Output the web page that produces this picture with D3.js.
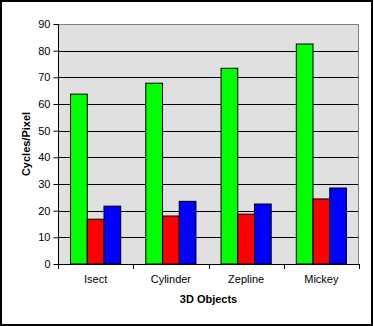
<!DOCTYPE html>
<html>
<head>
<meta charset="utf-8">
<script src="https://cdn.jsdelivr.net/npm/d3@7"></script>
<style>
  body { margin: 0; background: #fff; }
  svg text { font-family: "Liberation Sans", Arial, sans-serif; }
</style>
</head>
<body>
<div class="container"></div>
<script>
const categories = ["Isect", "Cylinder", "Zepline", "Mickey"]
const seriesGreen = [63.7, 67.8, 73.4, 82.5]
const seriesRed = [16.8, 18.0, 18.7, 24.4]
const seriesBlue = [21.7, 23.5, 22.5, 28.5]
const yTicks = [0, 10, 20, 30, 40, 50, 60, 70, 80, 90]
const colors = ["#00ff00", "#ff0000", "#0000ff"]

const series = [seriesGreen, seriesRed, seriesBlue]

let outerWidth = 374
let outerHeight = 326
let margin = {top: 24, right: 15, bottom: 62, left: 58}
let width = outerWidth - margin.left - margin.right
let height = outerHeight - margin.top - margin.bottom

const root = d3.select(".container")
    .append("svg")
    .attr("width", outerWidth)
    .attr("height", outerHeight)

// outer frame
root.append("rect")
    .attr("x", 1)
    .attr("y", 1)
    .attr("width", outerWidth - 3)
    .attr("height", outerHeight - 2)
    .attr("fill", "white")
    .attr("stroke", "black")
    .attr("stroke-width", 2)

const svg = root.append("g")
    .attr("transform", `translate(${margin.left}, ${margin.top})`)

// Scales
const xScale = d3.scaleBand()
    .domain(categories)
    .range([0, width])
    .paddingInner(0)

const barW = xScale.bandwidth() / 4.5
const inner = d3.scaleBand()
    .domain([0, 1, 2])
    .range([barW * 0.75, barW * 3.75])

const yScale = d3.scaleLinear()
    .domain([0, 90])
    .range([height, 0])

// plot background
svg.append("rect")
    .attr("width", width)
    .attr("height", height)
    .attr("fill", "#e0e0e0")

// Grid lines
svg.selectAll(".grid")
    .data(yTicks.filter(d => d > 0 && d < 90))
    .enter()
    .append("line")
    .attr("x1", 0)
    .attr("x2", width)
    .attr("y1", d => Math.round(yScale(d)) + 0.5)
    .attr("y2", d => Math.round(yScale(d)) + 0.5)
    .attr("stroke", "black")
    .attr("stroke-width", 1)

// gray top and right edges
svg.append("path")
    .attr("d", `M0,0.5H${width - 0.5}V${height}`)
    .attr("fill", "none")
    .attr("stroke", "#808080")
    .attr("stroke-width", 1)

// Bars
const groups = svg.selectAll(".group")
    .data(categories)
    .enter()
    .append("g")
    .attr("transform", d => `translate(${xScale(d)}, 0)`)

groups.selectAll("rect")
    .data((d, i) => series.map((s, k) => ({k: k, v: s[i]})))
    .enter()
    .append("rect")
    .attr("x", d => inner(d.k))
    .attr("y", d => yScale(d.v))
    .attr("width", inner.bandwidth())
    .attr("height", d => height - yScale(d.v))
    .attr("fill", d => colors[d.k])
    .attr("stroke", "black")
    .attr("stroke-width", 1)

// Axes
const yAxis = d3.axisLeft(yScale)
    .tickValues(yTicks)
    .tickSize(5)
    .tickPadding(3)

let y = svg.append("g")
    .attr("class", "axis y-axis")
    .attr("transform", "translate(0.5, 0)")
    .call(yAxis)

y.select(".domain")
    .attr("d", `M0,0V${height}`)
    .attr("stroke", "black")
y.selectAll(".tick line").attr("stroke", "black")
y.selectAll(".tick text")
    .attr("font-size", 11)
    .attr("fill", "black")
    .attr("font-family", "Liberation Sans, Arial, sans-serif")

const xTicks = svg.append("g")
    .attr("transform", `translate(0, ${height})`)

xTicks.append("line")
    .attr("x1", 0)
    .attr("x2", width)
    .attr("y1", 0.5)
    .attr("y2", 0.5)
    .attr("stroke", "black")

xTicks.selectAll(".tick")
    .data(categories.concat(["end"]))
    .enter()
    .append("line")
    .attr("x1", (d, i) => Math.round(i * xScale.step()) + 0.5)
    .attr("x2", (d, i) => Math.round(i * xScale.step()) + 0.5)
    .attr("y1", 0)
    .attr("y2", 5)
    .attr("stroke", "black")

xTicks.selectAll(".label")
    .data(categories)
    .enter()
    .append("text")
    .text(d => d)
    .attr("x", d => xScale(d) + xScale.bandwidth() / 2)
    .attr("y", 19)
    .attr("text-anchor", "middle")
    .attr("font-size", 11)
    .attr("fill", "black")

// Axis titles
svg.append("text")
    .text("3D Objects")
    .attr("x", width / 2)
    .attr("y", height + 39)
    .attr("text-anchor", "middle")
    .attr("font-size", 11)
    .attr("font-weight", "bold")
    .attr("fill", "black")

svg.append("text")
    .text("Cycles/Pixel")
    .attr("transform", `translate(${26 - margin.left + 4}, ${height / 2}) rotate(-90)`)
    .attr("text-anchor", "middle")
    .attr("font-size", 11)
    .attr("font-weight", "bold")
    .attr("fill", "black")
</script>
</body>
</html>
